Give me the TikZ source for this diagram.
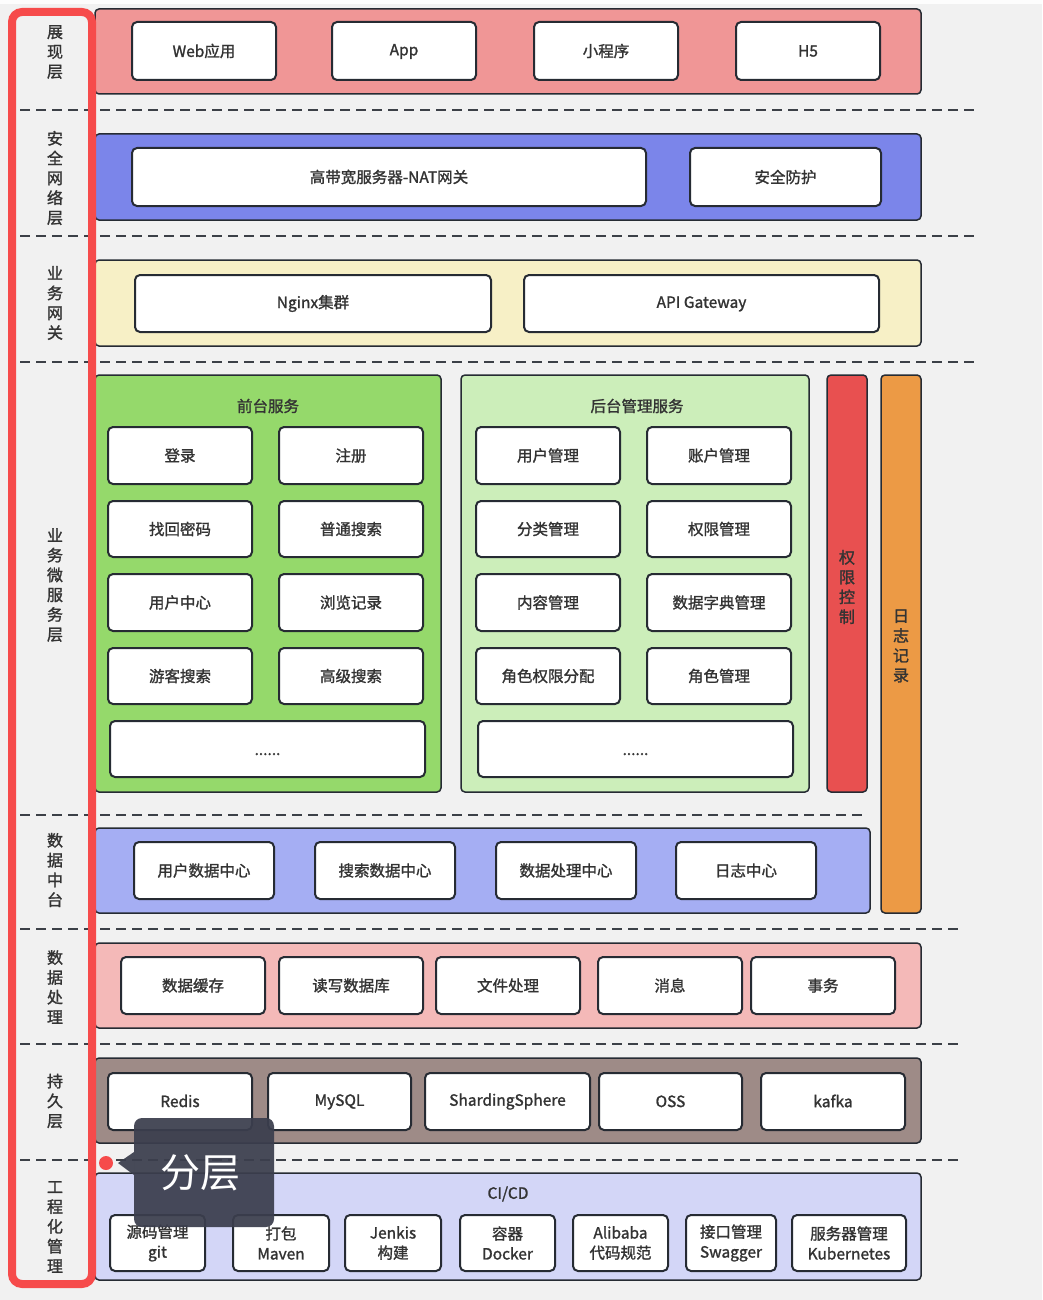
\documentclass[tikz,border=0pt]{standalone}
\usepackage{fontspec}
\setmainfont{Noto Sans CJK SC}[FakeBold=1.4]
\newfontfamily\tipfont{Noto Sans CJK SC}
\definecolor{bg}{HTML}{F1F1F1}
\definecolor{ln}{HTML}{262B33}
\definecolor{cA}{HTML}{F09696}
\definecolor{cB}{HTML}{7B85EA}
\definecolor{cC}{HTML}{F7F0C6}
\definecolor{cD}{HTML}{95D96B}
\definecolor{cE}{HTML}{CCEEBA}
\definecolor{cF}{HTML}{E85050}
\definecolor{cG}{HTML}{EC9A45}
\definecolor{cH}{HTML}{A5AEF3}
\definecolor{cI}{HTML}{F4B9B8}
\definecolor{cJ}{HTML}{9E8B87}
\definecolor{cK}{HTML}{D3D6F7}
\definecolor{rd}{HTML}{F64B4B}
\definecolor{tipc}{HTML}{3B3E4D}
\definecolor{tx}{HTML}{333333}
\newcommand\bx[7][wbox]{\node[#1,minimum width={#5pt-#3pt},minimum height={#6pt-#4pt}] (#2) at ({(#3+#5)/2},{(#4+#6)/2}) {#7};}
\begin{document}
\begin{tikzpicture}[x=1pt,y=-1pt,
  band/.style={draw=ln,line width=1.5pt,rounded corners=4pt,inner sep=0pt,outer sep=0pt},
  wbox/.style={draw=ln,line width=2pt,fill=white,rounded corners=5pt,inner sep=0pt,outer sep=0pt,
    text=tx,font=\fontsize{15.5}{20}\selectfont,align=center},
  lbl/.style={text=tx,font=\fontsize{15.5}{20}\selectfont,inner sep=0pt},
  vt/.style={text=tx,font=\fontsize{16}{19.8}\selectfont,align=center,inner sep=0pt},
  dsh/.style={draw=ln!90,line width=2pt,dash pattern=on 10pt off 6pt}]
\useasboundingbox (0,0) rectangle (1042,1300);
\fill[bg] (0,0) rectangle (1042,1300);
\fill[white!85!bg] (0,0) rectangle (1042,4);

% dashed separators
\draw[dsh] (20,110) -- (975,110);
\draw[dsh] (20,236) -- (975,236);
\draw[dsh] (20,362) -- (975,362);
\draw[dsh] (20,815) -- (867,815);
\draw[dsh] (20,929) -- (963,929);
\draw[dsh] (20,1044) -- (963,1044);
\draw[dsh] (20,1160) -- (963,1160);

% layer 1
\bx[band,fill=cA]{L1}{95}{9}{921}{94}{}
\bx{web}{132}{22}{276}{80}{Web应用}
\bx{app}{332}{22}{476}{80}{\vphantom{国}App}
\bx{xcx}{534}{22}{678}{80}{小程序}
\bx{h5}{736}{22}{880}{80}{\vphantom{国}H5}

% layer 2
\bx[band,fill=cB]{L2}{95}{134}{921}{220}{}
\bx{nat}{132}{148}{646}{206}{高带宽服务器-NAT网关}
\bx{aqfh}{690}{148}{881}{206}{安全防护}

% layer 3
\bx[band,fill=cC]{L3}{95}{260}{921}{346}{}
\bx{nginx}{135}{275}{491}{332}{Nginx集群}
\bx{apigw}{524}{275}{879}{332}{\vphantom{国}API Gateway}

% layer 4
\bx[band,fill=cD]{L4a}{95}{375}{441}{792}{}
\node[lbl] (t4a) at (268,406) {前台服务};
\bx{dl}{108}{427}{252}{484}{登录}
\bx{zc}{279}{427}{423}{484}{注册}
\bx{zhmm}{108}{501}{252}{557}{找回密码}
\bx{ptss}{279}{501}{423}{557}{普通搜索}
\bx{yhzx}{108}{574}{252}{631}{用户中心}
\bx{lljl}{279}{574}{423}{631}{浏览记录}
\bx{ykss}{108}{648}{252}{704}{游客搜索}
\bx{gjss}{279}{648}{423}{704}{高级搜索}
\bx{moreA}{110}{721}{425}{777}{\raisebox{-6pt}[0pt][0pt]{......}}

\bx[band,fill=cE]{L4b}{461}{375}{809}{792}{}
\node[lbl] (t4b) at (637,406) {后台管理服务};
\bx{yhgl}{476}{427}{620}{484}{用户管理}
\bx{zhgl}{647}{427}{791}{484}{账户管理}
\bx{flgl}{476}{501}{620}{557}{分类管理}
\bx{qxgl}{647}{501}{791}{557}{权限管理}
\bx{nrgl}{476}{574}{620}{631}{内容管理}
\bx{sjzd}{647}{574}{791}{631}{数据字典管理}
\bx{jsqx}{476}{648}{620}{704}{角色权限分配}
\bx{jsgl}{647}{648}{791}{704}{角色管理}
\bx{moreB}{478}{721}{793}{777}{\raisebox{-6pt}[0pt][0pt]{......}}

\bx[band,fill=cF]{qxkz}{827}{375}{867}{792}{}
\node[vt] (tqx) at (847,587) {权\\限\\控\\制};
\bx[band,fill=cG]{rzjl}{881}{375}{921}{913}{}
\node[vt] (trz) at (901,646) {日\\志\\记\\录};

% layer 5
\bx[band,fill=cH]{L5}{95}{828}{870}{913}{}
\bx{yhsj}{134}{842}{274}{899}{用户数据中心}
\bx{sssj}{315}{842}{455}{899}{搜索数据中心}
\bx{sjcl}{496}{842}{636}{899}{数据处理中心}
\bx{rzzx}{676}{842}{816}{899}{日志中心}

% layer 6
\bx[band,fill=cI]{L6}{95}{943}{921}{1028}{}
\bx{sjhc}{121}{957}{265}{1014}{数据缓存}
\bx{dxsjk}{279}{957}{423}{1014}{读写数据库}
\bx{wjcl}{436}{957}{580}{1014}{文件处理}
\bx{xx}{598}{957}{742}{1014}{消息}
\bx{sw}{751}{957}{895}{1014}{事务}

% layer 7
\bx[band,fill=cJ]{L7}{95}{1058}{921}{1143}{}
\bx{redis}{108}{1073}{252}{1130}{\vphantom{国}Redis}
\bx{mysql}{268}{1073}{411}{1130}{\vphantom{国}MySQL}
\bx{shard}{425}{1073}{590}{1130}{\vphantom{国}ShardingSphere}
\bx{oss}{599}{1073}{742}{1130}{\vphantom{国}OSS}
\bx{kafka}{761}{1073}{905}{1130}{\vphantom{国}kafka}

% layer 8
\bx[band,fill=cK]{L8}{95}{1173}{921}{1280}{}
\node[lbl] (t8) at (508,1194) {\vphantom{国}CI/CD};
\bx{git}{110}{1215}{205}{1271}{源码管理\\git}
\bx{maven}{233}{1215}{329}{1271}{打包\\Maven}
\bx{jenkis}{345}{1215}{441}{1271}{\vphantom{国}Jenkis\\构建}
\bx{docker}{460}{1215}{555}{1271}{容器\\Docker}
\bx{ali}{573}{1215}{668}{1271}{\vphantom{国}Alibaba\\代码规范}
\bx{swag}{686}{1215}{776}{1271}{接口管理\\Swagger}
\bx{k8s}{792}{1215}{906}{1271}{服务器管理\\Kubernetes}

% left labels
\node[vt] (v1) at (55,52) {展\\现\\层};
\node[vt] (v2) at (55,178) {安\\全\\网\\络\\层};
\node[vt] (v3) at (55,303) {业\\务\\网\\关};
\node[vt] (v4) at (55,585) {业\\务\\微\\服\\务\\层};
\node[vt] (v5) at (55,870) {数\\据\\中\\台};
\node[vt] (v6) at (55,987) {数\\据\\处\\理};
\node[vt] (v7) at (55,1101) {持\\久\\层};
\node[vt] (v8) at (55,1227) {工\\程\\化\\管\\理};

% red frame
\draw[rd,line width=8pt,rounded corners=10pt] (12,12) rectangle (92,1284);

% tooltip
\node[circle,fill=rd,minimum size=14pt,inner sep=0pt] (dot) at (106,1163) {};
\fill[tipc,fill opacity=0.93] (134,1152) -- (118,1163) -- (134,1175) -- cycle;
\node[fill=tipc,fill opacity=0.93,rounded corners=8pt,inner sep=0pt,
  minimum width=140pt,minimum height=109pt] (tipn) at (204,1172.5) {};
\node[text=white,inner sep=0pt,font=\tipfont\fontsize{40}{44}\selectfont] (tipt) at (200,1173) {分层};
\end{tikzpicture}
\end{document}
